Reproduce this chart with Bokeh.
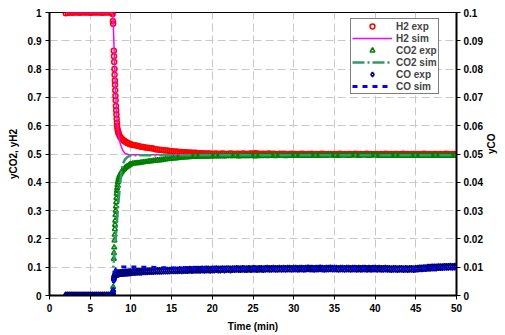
import math
from bokeh.plotting import figure
from bokeh.models import Range1d, LinearAxis, FixedTicker, Legend, LegendItem
from bokeh.embed import file_html
from bokeh.resources import INLINE

# ---------------- data ----------------
exp_time = [
    2.0, 2.25, 2.5, 2.75, 3.0, 3.25, 3.5, 3.75, 4.0, 4.25, 4.5, 4.75, 5.0, 5.25, 5.5, 5.75,
    6.0, 6.25, 6.5, 6.75, 7.0, 7.25, 7.5,
    7.6, 7.7, 7.75, 7.8, 7.82, 7.9, 7.92, 7.95, 7.98, 8.0, 8.03, 8.05, 8.08, 8.1, 8.13,
    8.16, 8.19, 8.22, 8.25, 8.28, 8.31, 8.35, 8.4, 8.45, 8.5, 8.6, 8.7, 8.8, 8.9, 9.0,
    9.1, 9.2, 9.3, 9.4, 9.5, 9.6, 9.7, 9.8, 9.9, 10.0,
    10.25, 10.5, 10.75, 11.0, 11.25, 11.5, 11.75, 12.0, 12.25, 12.5, 12.75, 13.0, 13.25, 13.5, 13.75, 14.0, 14.25, 14.5, 14.75, 15.0,
    15.25, 15.5, 15.75, 16.0, 16.25, 16.5, 16.75, 17.0, 17.25, 17.5, 17.75, 18.0, 18.25, 18.5, 18.75, 19.0, 19.25, 19.5, 19.75, 20.0,
    20.25, 20.5, 20.75, 21.0, 21.25, 21.5, 21.75, 22.0, 22.25, 22.5, 22.75, 23.0, 23.25, 23.5, 23.75, 24.0, 24.25, 24.5, 24.75, 25.0,
    25.25, 25.5, 25.75, 26.0, 26.25, 26.5, 26.75, 27.0, 27.25, 27.5, 27.75, 28.0, 28.25, 28.5, 28.75, 29.0, 29.25, 29.5, 29.75, 30.0,
    30.25, 30.5, 30.75, 31.0, 31.25, 31.5, 31.75, 32.0, 32.25, 32.5, 32.75, 33.0, 33.25, 33.5, 33.75, 34.0, 34.25, 34.5, 34.75, 35.0,
    35.25, 35.5, 35.75, 36.0, 36.25, 36.5, 36.75, 37.0, 37.25, 37.5, 37.75, 38.0, 38.25, 38.5, 38.75, 39.0, 39.25, 39.5, 39.75, 40.0,
    40.25, 40.5, 40.75, 41.0, 41.25, 41.5, 41.75, 42.0, 42.25, 42.5, 42.75, 43.0, 43.25, 43.5, 43.75, 44.0, 44.25, 44.5, 44.75, 45.0,
    45.25, 45.5, 45.75, 46.0, 46.25, 46.5, 46.75, 47.0, 47.25, 47.5, 47.75, 48.0, 48.25, 48.5, 48.75, 49.0, 49.25, 49.5, 49.75, 50.0,
]

h2_exp = [
    0.997, 0.999, 1.0, 0.999, 1.0, 1.0, 1.0, 0.999, 1.0, 1.0, 1.0, 1.0, 0.999, 1.0, 1.0, 1.0,
    1.0, 1.0, 0.999, 1.0, 1.0, 1.0, 1.0,
    1.0, 1.0, 0.995, 0.97, 0.96, 0.865, 0.845, 0.825, 0.80, 0.78, 0.76, 0.745, 0.725, 0.705, 0.69,
    0.67, 0.655, 0.64, 0.625, 0.61, 0.60, 0.59, 0.583, 0.577, 0.572, 0.565, 0.560, 0.556, 0.553, 0.550,
    0.548, 0.546, 0.544, 0.542, 0.540, 0.539, 0.537, 0.536, 0.535, 0.534,
    0.532, 0.531, 0.529, 0.527, 0.526, 0.525, 0.523, 0.522, 0.521, 0.520, 0.519, 0.517, 0.516, 0.515, 0.514, 0.513, 0.512, 0.512, 0.511, 0.510,
    0.509, 0.509, 0.508, 0.507, 0.507, 0.506, 0.506, 0.505, 0.505, 0.504, 0.504, 0.504, 0.503, 0.503, 0.503, 0.502, 0.502, 0.502, 0.502, 0.501,
    0.501, 0.502, 0.500, 0.501, 0.502, 0.501, 0.500, 0.501, 0.502, 0.501, 0.500, 0.501, 0.501, 0.500, 0.502, 0.501, 0.500, 0.501, 0.502, 0.501,
    0.503, 0.502, 0.501, 0.500, 0.501, 0.500, 0.501, 0.502, 0.500, 0.501, 0.500, 0.499, 0.501, 0.500, 0.501, 0.500, 0.499, 0.500, 0.501, 0.500,
    0.500, 0.499, 0.500, 0.501, 0.500, 0.499, 0.500, 0.500, 0.501, 0.499, 0.500, 0.499, 0.500, 0.501, 0.500, 0.499, 0.500, 0.500, 0.499, 0.500,
    0.499, 0.500, 0.501, 0.499, 0.500, 0.499, 0.500, 0.500, 0.499, 0.501, 0.500, 0.499, 0.500, 0.499, 0.500, 0.501, 0.499, 0.500, 0.499, 0.500,
    0.500, 0.499, 0.500, 0.499, 0.501, 0.500, 0.499, 0.500, 0.499, 0.500, 0.500, 0.499, 0.500, 0.501, 0.499, 0.500, 0.499, 0.500, 0.500, 0.499,
    0.500, 0.499, 0.500, 0.501, 0.500, 0.499, 0.500, 0.499, 0.500, 0.500, 0.499, 0.500, 0.499, 0.500, 0.501, 0.500, 0.499, 0.500, 0.500, 0.499,
]

co2_exp = [
    0.0, 0.0, 0.0, 0.0, 0.0, 0.0, 0.0, 0.0, 0.0, 0.0, 0.0, 0.0, 0.0, 0.0, 0.0, 0.0,
    0.0, 0.0, 0.0, 0.0, 0.0, 0.0, 0.0,
    0.0, 0.0, 0.0, 0.01, 0.03, 0.13, 0.15, 0.17, 0.195, 0.215, 0.235, 0.25, 0.265, 0.285, 0.30,
    0.315, 0.33, 0.345, 0.36, 0.37, 0.38, 0.39, 0.40, 0.408, 0.415, 0.423, 0.429, 0.434, 0.438, 0.442,
    0.445, 0.448, 0.451, 0.453, 0.455, 0.457, 0.459, 0.461, 0.463, 0.465,
    0.466, 0.467, 0.468, 0.468, 0.470, 0.471, 0.472, 0.473, 0.474, 0.474, 0.476, 0.477, 0.478, 0.478, 0.479, 0.480, 0.481, 0.482, 0.483, 0.484,
    0.485, 0.485, 0.486, 0.487, 0.487, 0.488, 0.488, 0.489, 0.489, 0.490, 0.490, 0.490, 0.491, 0.491, 0.491, 0.492, 0.491, 0.492, 0.492, 0.492,
    0.492, 0.493, 0.492, 0.493, 0.493, 0.492, 0.493, 0.494, 0.493, 0.493, 0.494, 0.493, 0.492, 0.493, 0.494, 0.493, 0.493, 0.494, 0.493, 0.494,
    0.492, 0.493, 0.494, 0.493, 0.494, 0.494, 0.493, 0.494, 0.495, 0.494, 0.493, 0.494, 0.494, 0.495, 0.494, 0.493, 0.494, 0.495, 0.494, 0.494,
    0.495, 0.494, 0.494, 0.495, 0.494, 0.495, 0.494, 0.494, 0.495, 0.496, 0.494, 0.495, 0.494, 0.495, 0.495, 0.494, 0.495, 0.496, 0.495, 0.494,
    0.495, 0.494, 0.495, 0.495, 0.496, 0.495, 0.494, 0.495, 0.496, 0.495, 0.495, 0.494, 0.495, 0.496, 0.495, 0.495, 0.494, 0.495, 0.496, 0.496,
    0.495, 0.494, 0.495, 0.495, 0.494, 0.495, 0.495, 0.494, 0.495, 0.494, 0.495, 0.495, 0.494, 0.494, 0.495, 0.494, 0.495, 0.494, 0.494, 0.495,
    0.494, 0.495, 0.494, 0.494, 0.495, 0.494, 0.494, 0.495, 0.494, 0.495, 0.494, 0.494, 0.495, 0.494, 0.494, 0.495, 0.494, 0.495, 0.494, 0.495,
]

co_exp = [
    0.0, 0.0, 0.0, 0.0, 0.0, 0.0, 0.0, 0.0, 0.0, 0.0, 0.0, 0.0, 0.0, 0.0, 0.0, 0.0,
    0.0, 0.0, 0.0, 0.0, 0.0, 0.0, 0.0,
    0.0, 0.0, 0.0, 0.0005, 0.0015, 0.0055, 0.006, 0.0065, 0.0068, 0.007, 0.0071, 0.0072, 0.0073, 0.0074, 0.0074,
    0.0075, 0.0075, 0.0076, 0.0076, 0.0076, 0.0077, 0.0077, 0.0077, 0.0078, 0.0078, 0.0078, 0.0079, 0.0079, 0.0079, 0.0080,
    0.0080, 0.0080, 0.0081, 0.0081, 0.0081, 0.0081, 0.0082, 0.0082, 0.0082, 0.0082,
    0.0083, 0.0083, 0.0084, 0.0084, 0.0084, 0.0085, 0.0085, 0.0085, 0.0086, 0.0086, 0.0086, 0.0087, 0.0087, 0.0087, 0.0087, 0.0088, 0.0088, 0.0088, 0.0088, 0.0089,
    0.0089, 0.0089, 0.0089, 0.0090, 0.0089, 0.0090, 0.0090, 0.0090, 0.0091, 0.0090, 0.0091, 0.0091, 0.0091, 0.0091, 0.0092, 0.0091, 0.0092, 0.0092, 0.0091, 0.0092,
    0.0092, 0.0093, 0.0092, 0.0092, 0.0093, 0.0092, 0.0093, 0.0093, 0.0092, 0.0093, 0.0093, 0.0094, 0.0093, 0.0093, 0.0094, 0.0093, 0.0093, 0.0094, 0.0093, 0.0094,
    0.0094, 0.0093, 0.0094, 0.0094, 0.0093, 0.0094, 0.0095, 0.0094, 0.0094, 0.0095, 0.0094, 0.0094, 0.0095, 0.0094, 0.0095, 0.0094, 0.0095, 0.0095, 0.0094, 0.0095,
    0.0095, 0.0094, 0.0095, 0.0095, 0.0094, 0.0095, 0.0096, 0.0095, 0.0095, 0.0094, 0.0095, 0.0095, 0.0096, 0.0095, 0.0094, 0.0095, 0.0095, 0.0096, 0.0095, 0.0095,
    0.0095, 0.0094, 0.0095, 0.0095, 0.0094, 0.0095, 0.0095, 0.0094, 0.0095, 0.0095, 0.0094, 0.0095, 0.0094, 0.0095, 0.0095, 0.0094, 0.0095, 0.0094, 0.0095, 0.0095,
    0.0094, 0.0095, 0.0094, 0.0094, 0.0095, 0.0094, 0.0094, 0.0093, 0.0094, 0.0094, 0.0093, 0.0094, 0.0094, 0.0093, 0.0094, 0.0093, 0.0094, 0.0094, 0.0093, 0.0094,
    0.0095, 0.0096, 0.0096, 0.0097, 0.0097, 0.0098, 0.0098, 0.0099, 0.0099, 0.0099, 0.0100, 0.0100, 0.0100, 0.0101, 0.0101, 0.0101, 0.0102, 0.0101, 0.0102, 0.0102,
]

h2_sim_time = [2.0, 7.7, 7.78, 7.85, 7.95, 8.05, 8.15, 8.25, 8.35, 8.5, 8.7, 9.0, 9.3, 9.7, 10.2, 50.0]
h2_sim = [1.0, 1.0, 0.99, 0.95, 0.86, 0.77, 0.70, 0.64, 0.60, 0.565, 0.535, 0.512, 0.502, 0.498, 0.497, 0.497]

co2_sim_time = [2.0, 7.8, 7.85, 8.2, 8.5, 8.8, 9.0, 9.3, 9.6, 10.0, 11.0, 50.0]
co2_sim = [0.0, 0.0, 0.10, 0.23, 0.34, 0.43, 0.465, 0.482, 0.490, 0.495, 0.496, 0.496]

co_sim_time = [2.0, 7.8, 7.9, 8.0, 8.2, 8.5, 9.0, 12.0, 16.0, 50.0]
co_sim = [0.0, 0.0, 0.006, 0.0085, 0.0095, 0.0099, 0.0101, 0.0100, 0.0096, 0.0096]

x_ticks = [0, 5, 10, 15, 20, 25, 30, 35, 40, 45, 50]
y_ticks = [0, 0.1, 0.2, 0.3, 0.4, 0.5, 0.6, 0.7, 0.8, 0.9, 1.0]
y_tick_labels = ["0", "0.1", "0.2", "0.3", "0.4", "0.5", "0.6", "0.7", "0.8", "0.9", "1"]
y2_ticks = [0, 0.01, 0.02, 0.03, 0.04, 0.05, 0.06, 0.07, 0.08, 0.09, 0.1]
y2_tick_labels = ["0", "0.01", "0.02", "0.03", "0.04", "0.05", "0.06", "0.07", "0.08", "0.09", "0.1"]

# ---------------- figure ----------------
FONT = "Liberation Sans"
W, H = 505, 335
ML, MR, MT, MB = 49, 46, 12, 40
p = figure(width=W, height=H, output_backend="svg", toolbar_location=None,
           x_range=Range1d(0, 50), y_range=Range1d(0, 1),
           min_border_left=ML, min_border_right=MR, min_border_top=MT, min_border_bottom=MB)
p.extra_y_ranges = {"co": Range1d(0, 0.1)}
p.background_fill_color = "white"
p.border_fill_color = "white"
p.outline_line_color = "black"
p.outline_line_width = 1

r_h2e = p.scatter(exp_time, h2_exp, marker="circle", size=5, fill_color=None,
                  line_color="#FF0000", line_width=1.5)
r_h2s = p.line(h2_sim_time, h2_sim, line_color="#FF00FF", line_width=1.5)
r_co2e = p.scatter(exp_time, co2_exp, marker="triangle", size=5, fill_color=None,
                   line_color="#008000", line_width=1.5)
r_co2s = p.line(co2_sim_time, co2_sim, line_color="#339966", line_width=2.5, line_dash="12 3 2 3")
r_coe = p.scatter(exp_time, co_exp, marker="diamond", size=7, fill_color=None,
                  line_color="#000080", line_width=1.5, y_range_name="co")
r_cos = p.line(co_sim_time, co_sim, line_color="#0000FF", line_width=3, line_dash="5 5",
               y_range_name="co")

# axes
p.xaxis.ticker = FixedTicker(ticks=x_ticks)
p.yaxis.ticker = FixedTicker(ticks=y_ticks)
p.yaxis.major_label_overrides = {t: s for t, s in zip(y_ticks, y_tick_labels)}
p.xaxis.axis_label = "Time (min)"
p.yaxis.axis_label = "yCO2, yH2"

ax2 = LinearAxis(y_range_name="co", ticker=FixedTicker(ticks=y2_ticks))
ax2.major_label_overrides = {t: s for t, s in zip(y2_ticks, y2_tick_labels)}
ax2.axis_label = "yCO"
try:
    ax2.axis_label_orientation = math.pi / 2
except Exception:
    pass
p.add_layout(ax2, "right")

for ax in (p.xaxis[0], p.yaxis[0], ax2):
    ax.axis_line_color = "black"
    ax.axis_line_width = 2
    ax.major_tick_line_color = "black"
    ax.major_tick_line_width = 1
    ax.major_tick_out = 4
    ax.major_tick_in = 0
    ax.minor_tick_line_color = None
    ax.major_label_text_font = FONT
    ax.major_label_text_font_style = "bold"
    ax.major_label_text_font_size = "10px"
    ax.major_label_text_color = "black"
    ax.axis_label_text_font = FONT
    ax.axis_label_text_font_style = "bold"
    ax.axis_label_text_font_size = "10px"
    ax.axis_label_text_color = "black"
    ax.major_label_standoff = 4
    ax.axis_label_standoff = 6
ax2.major_label_standoff = 3

# grid
for g in (p.xgrid[0], p.ygrid[0]):
    g.grid_line_color = "#c8c8c8"
    g.grid_line_dash = "8 4"
    g.grid_line_width = 1

# legend (bottom-left corner given in screen px from the frame's bottom-left)
frame_w = W - ML - MR
frame_h = H - MT - MB
leg_w, leg_h = 93, 77
legend = Legend(items=[
    LegendItem(label="H2 exp", renderers=[r_h2e]),
    LegendItem(label="H2 sim", renderers=[r_h2s]),
    LegendItem(label="CO2 exp", renderers=[r_co2e]),
    LegendItem(label="CO2 sim", renderers=[r_co2s]),
    LegendItem(label="CO exp", renderers=[r_coe]),
    LegendItem(label="CO sim", renderers=[r_cos]),
], location=(frame_w - 16 - leg_w, frame_h - 5 - leg_h))
legend.border_line_color = "black"
legend.border_line_width = 1
legend.background_fill_color = "white"
legend.background_fill_alpha = 1.0
legend.label_text_font = FONT
legend.label_text_font_style = "bold"
legend.label_text_font_size = "10px"
legend.label_height = 12
legend.glyph_height = 12
legend.glyph_width = 40
legend.label_standoff = 4
legend.spacing = 0
legend.padding = 1
legend.margin = 0
p.add_layout(legend)

open("out.html", "w").write(file_html(p, INLINE))
